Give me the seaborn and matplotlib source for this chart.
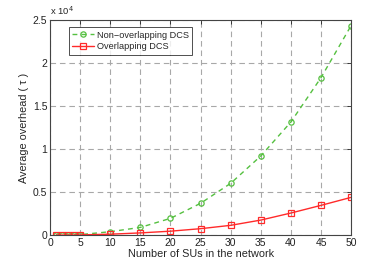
import matplotlib
matplotlib.use("Agg")
import matplotlib.pyplot as plt
import numpy as np
import pandas as pd
import seaborn as sns

# Data (overhead in units of 1e4)
num_sus = [1, 2, 3, 4, 5, 10, 15, 20, 25, 30, 35, 40, 45, 50]
non_overlap = [0.0, 0.0002, 0.0005, 0.0012, 0.005, 0.039, 0.089, 0.194, 0.369,
               0.601, 0.919, 1.314, 1.829, 2.434]
overlap = [0.0, 0.0001, 0.0002, 0.0004, 0.002, 0.010, 0.025, 0.045, 0.074,
           0.113, 0.174, 0.256, 0.345, 0.438]
x_ticks = list(range(0, 55, 5))
y_ticks = [0, 0.5, 1, 1.5, 2, 2.5]

df = pd.DataFrame({
    "SUs": num_sus * 2,
    "overhead": non_overlap + overlap,
    "scheme": ["Non\u2212overlapping DCS"] * len(num_sus) + ["Overlapping DCS"] * len(num_sus),
})

sns.set_style("white")
plt.rcParams["font.family"] = ["Liberation Sans", "DejaVu Sans"]

fig = plt.figure(figsize=(3.88, 2.65), dpi=100)
ax = fig.add_axes([0.129, 0.113, 0.776, 0.812])

green = "#55C040"
red = "#FF2A2A"
sns.lineplot(data=df[df.scheme.str.startswith("Non")], x="SUs", y="overhead",
             ax=ax, color=green, linestyle=(0, (3.5, 3)), linewidth=1.0, marker="o",
             markersize=3.8, markerfacecolor="none", markeredgecolor=green,
             markeredgewidth=0.9, label="Non\u2212overlapping DCS")
sns.lineplot(data=df[df.scheme == "Overlapping DCS"], x="SUs", y="overhead",
             ax=ax, color=red, linestyle="-", linewidth=1.0, marker="s",
             markersize=3.8, markerfacecolor="none", markeredgecolor=red,
             markeredgewidth=0.9, label="Overlapping DCS")

ax.set_xlim(0, 50)
ax.set_ylim(0, 2.5)
ax.set_xticks(x_ticks)
ax.set_yticks(y_ticks)
ax.set_yticklabels(["0", "0.5", "1", "1.5", "2", "2.5"])
ax.grid(True, color="#a8a8a8", linestyle=(0, (5, 3.5)), linewidth=0.8)
ax.set_axisbelow(True)
ax.tick_params(direction="in", length=3, width=0.6, labelsize=7.5,
               top=True, right=True, pad=2, colors="#222222")
for s in ax.spines.values():
    s.set_color("#444444")
    s.set_linewidth(0.8)

ax.set_xlabel("Number of SUs in the network", fontsize=7.8, labelpad=1)
ax.set_ylabel("Average overhead ( \u03c4 )", fontsize=7.8, labelpad=3)
ax.text(0.0, 1.012, "x 10$^4$", transform=ax.transAxes, fontsize=6.8,
        ha="left", va="bottom")

leg = ax.legend(loc="upper left", bbox_to_anchor=(0.063, 0.965), fontsize=6.6,
                frameon=True, fancybox=False, borderpad=0.35, labelspacing=0.3,
                handlelength=2.4, handletextpad=0.3, borderaxespad=0)
leg.get_frame().set_edgecolor("#222222")
leg.get_frame().set_linewidth(0.7)

fig.savefig("out.png", dpi=100)
